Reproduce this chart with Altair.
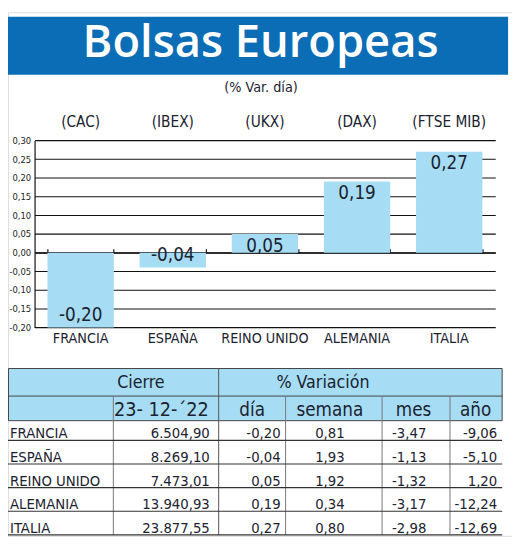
import altair as alt
import pandas as pd

# ---------------- data ----------------
paises = ["FRANCIA", "ESPAÑA", "REINO UNIDO", "ALEMANIA", "ITALIA"]
indices = ["(CAC)", "(IBEX)", "(UKX)", "(DAX)", "(FTSE MIB)"]
var_dia = [-0.20, -0.04, 0.05, 0.19, 0.27]
cierre = [6504.90, 8269.10, 7473.01, 13940.93, 23877.55]
semana = [0.81, 1.93, 1.92, 0.34, 0.80]
mes = [-3.47, -1.13, -1.32, -3.17, -2.98]
anio = [-9.06, -5.10, 1.20, -12.24, -12.69]
y_ticks = [-0.20, -0.15, -0.10, -0.05, 0.00, 0.05, 0.10, 0.15, 0.20, 0.25, 0.30]

titulo = "Bolsas Europeas"
subtitulo = "(% Var. día)"
cab1 = ["Cierre", "% Variación"]
cab2 = ["23- 12-´22", "día", "semana", "mes", "año"]

df = pd.DataFrame({
    "pais": paises, "indice": indices, "var": var_dia, "cierre": cierre,
    "semana": semana, "mes": mes, "anio": anio,
})

FONT = "Liberation Sans Narrow, DejaVu Sans Condensed, Arial Narrow, Roboto, sans-serif"
TFONT = "Open Sans"
BLUE = "#0b6db6"
LIGHT = "#a6ddf4"
INK = "#1b2230"

# ---------------- bar chart ----------------
xs = alt.X("pais:N", sort=paises, title=None,
           scale=alt.Scale(range=[27, 495], paddingInner=0.28, paddingOuter=0.14),
           axis=alt.Axis(orient="top", offset=-244.3, labels=False, tickBand="extent",
                         tickSize=4, tickColor="#111", tickWidth=1.2, domainColor="#111",
                         domainWidth=1.2, grid=False, title=None))
ys = alt.Y("var:Q", title=None,
           scale=alt.Scale(domain=[-0.2, 0.3], range=[320.3, 130.3], nice=False, zero=False),
           axis=alt.Axis(orient="left", offset=-27, values=y_ticks, format=".2f",
                         labelFont=FONT, labelFontSize=9.5, labelColor="#222",
                         labelPadding=4, tickSize=0, domainColor="#111", domainWidth=1.2,
                         grid=True, gridColor="#111", gridWidth=1.1, gridOpacity=1))

base = alt.Chart(df).encode(x=xs)
bars = base.mark_bar(color=LIGHT).encode(y=ys, y2=alt.datum(0))
lab_pos = base.transform_filter("datum.var > 0").mark_text(
    baseline="top", dy=3, fontSize=19, font=FONT, color=INK
).encode(y=alt.Y("var:Q"), text=alt.Text("var:Q", format=".2f"))
lab_neg = base.transform_filter("datum.var < 0").mark_text(
    baseline="bottom", dy=-3, fontSize=19, font=FONT, color=INK
).encode(y=alt.Y("var:Q"), text=alt.Text("var:Q", format=".2f"))
lab_idx = base.mark_text(baseline="bottom", dy=-11, fontSize=15.5, font=FONT, color=INK).encode(
    y=alt.datum(0.3), text="indice:N")
lab_pais = base.mark_text(baseline="top", dy=5, fontSize=14.5, font=FONT, color=INK).encode(
    y=alt.datum(-0.2), text="pais:N")

chart_bars = alt.layer(bars, lab_pos, lab_neg, lab_idx, lab_pais)

# ---------------- table rows ----------------
yrow = alt.Y("pais:N", sort=paises, title=None, axis=None,
             scale=alt.Scale(type="point", range=[428, 524], padding=0))
rows = alt.Chart(df).encode(y=yrow)
t_kw = dict(font=FONT, fontSize=15, color=INK, baseline="middle")
c_name = rows.mark_text(align="left", **t_kw).encode(x=alt.value(2), text="pais:N")
c_cie = rows.mark_text(align="right", **t_kw).encode(x=alt.value(205), text=alt.Text("cierre:Q", format=",.2f"))
c_dia = rows.mark_text(align="right", **t_kw).encode(x=alt.value(277), text=alt.Text("var:Q", format=".2f"))
c_sem = rows.mark_text(align="center", **t_kw).encode(x=alt.value(327), text=alt.Text("semana:Q", format=".2f"))
c_mes = rows.mark_text(align="right", **t_kw).encode(x=alt.value(425), text=alt.Text("mes:Q", format=".2f"))
c_ani = rows.mark_text(align="right", **t_kw).encode(x=alt.value(497), text=alt.Text("anio:Q", format=".2f"))
chart_rows = alt.layer(c_name, c_cie, c_dia, c_sem, c_mes, c_ani)

yline = alt.Y("pais:N", sort=paises, title=None, axis=None,
              scale=alt.Scale(type="point", range=[435, 531], padding=0))
chart_lines = alt.Chart(df).mark_rule(color="#333", strokeWidth=1.2).encode(
    y=yline, x=alt.value(0), x2=alt.value(502))

# ---------------- decoration ----------------
one = alt.Chart(pd.DataFrame({"t": [titulo], "s": [subtitulo]}))
banner = one.mark_rect(color=BLUE).encode(
    x=alt.value(0), x2=alt.value(508), y=alt.value(4.7), y2=alt.value(63.7))
title_txt = one.mark_text(font=TFONT, fontSize=46, fontWeight=600, color="white", align="center",
                          baseline="alphabetic").encode(x=alt.value(256.5), y=alt.value(46), text="t:N")
sub_txt = one.mark_text(font=FONT, fontSize=14.5, color=INK, align="center",
                        baseline="middle").encode(x=alt.value(257), y=alt.value(77), text="s:N")

head_bg = one.mark_rect(color=LIGHT, stroke="#444", strokeWidth=1).encode(
    x=alt.value(0.5), x2=alt.value(502), y=alt.value(362), y2=alt.value(415))
head_div = one.mark_rule(color="#444", strokeWidth=1).encode(
    x=alt.value(0.5), x2=alt.value(502), y=alt.value(390))
vlines = [
    one.mark_rule(color="#555", strokeWidth=1).encode(x=alt.value(214), y=alt.value(362), y2=alt.value(531)),
    one.mark_rule(color="#777", strokeWidth=1).encode(x=alt.value(107), y=alt.value(390), y2=alt.value(531)),
    one.mark_rule(color="#777", strokeWidth=1).encode(x=alt.value(282), y=alt.value(390), y2=alt.value(531)),
    one.mark_rule(color="#777", strokeWidth=1).encode(x=alt.value(380), y=alt.value(390), y2=alt.value(531)),
    one.mark_rule(color="#777", strokeWidth=1).encode(x=alt.value(449), y=alt.value(390), y2=alt.value(531)),
]
h_kw = dict(font=FONT, color=INK, baseline="middle")
head_txt = [
    one.mark_text(align="center", fontSize=18, **h_kw).encode(x=alt.value(135), y=alt.value(377), text=alt.value(cab1[0])),
    one.mark_text(align="center", fontSize=18, **h_kw).encode(x=alt.value(320), y=alt.value(377), text=alt.value(cab1[1])),
    one.mark_text(align="right", fontSize=20, **h_kw).encode(x=alt.value(204), y=alt.value(404), text=alt.value(cab2[0])),
    one.mark_text(align="center", fontSize=19, **h_kw).encode(x=alt.value(248), y=alt.value(404), text=alt.value(cab2[1])),
    one.mark_text(align="center", fontSize=19, **h_kw).encode(x=alt.value(327), y=alt.value(404), text=alt.value(cab2[2])),
    one.mark_text(align="center", fontSize=19, **h_kw).encode(x=alt.value(412), y=alt.value(404), text=alt.value(cab2[3])),
    one.mark_text(align="center", fontSize=19, **h_kw).encode(x=alt.value(475), y=alt.value(404), text=alt.value(cab2[4])),
]

decor = alt.layer(banner, title_txt, sub_txt, head_bg, head_div, *vlines, *head_txt)

chart = alt.layer(decor, chart_bars, chart_lines, chart_rows).resolve_scale(
    x="independent", y="independent"
).properties(
    width=512, height=532, autosize=alt.AutoSizeParams(type="none"), padding=0
).configure_view(stroke=None).configure(
    locale={"number": {"decimal": ",", "thousands": ".", "grouping": [3],
                       "currency": ["", " €"], "minus": "-"}}
)

chart.save("out.html", embed_options={"renderer": "svg", "actions": False})
